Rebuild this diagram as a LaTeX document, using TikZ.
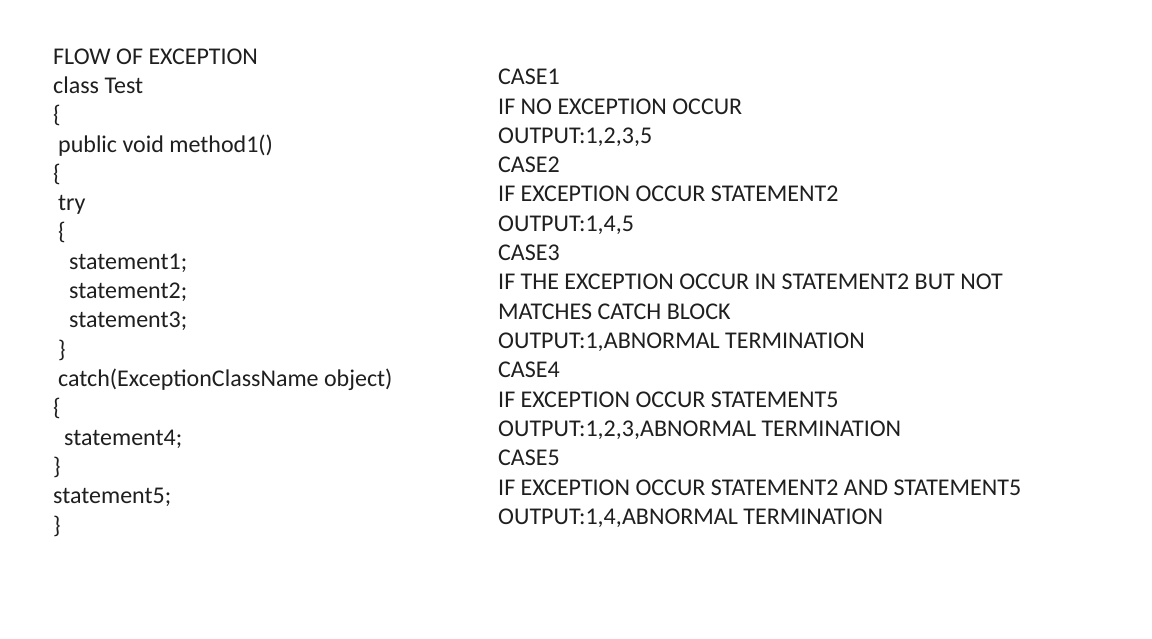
\documentclass[tikz,border=0pt]{standalone}
\usepackage{fontspec}
\setmainfont{Carlito}
\begin{document}
\begin{tikzpicture}[x=1pt,y=-1pt,
  txt/.style={anchor=base west,inner sep=0pt,font=\fontsize{24}{28}\selectfont,text=black!88}]
\useasboundingbox[fill=white] (0,0) rectangle (1152,639);
\def\ls{29.3}
% left column
\node[txt] (l0) at (53,64.2+0*\ls) {FLOW OF EXCEPTION};
\node[txt] (l1) at (53,64.2+1*\ls) {class Test};
\node[txt] (l2) at (53,64.2+2*\ls) {\{};
\node[txt] (l3) at (58,64.2+3*\ls) {public void method1()};
\node[txt] (l4) at (53,64.2+4*\ls) {\{};
\node[txt] (l5) at (58,64.2+5*\ls) {try};
\node[txt] (l6) at (58,64.2+6*\ls) {\{};
\node[txt] (l7) at (69,64.2+7*\ls) {statement1;};
\node[txt] (l8) at (69,64.2+8*\ls) {statement2;};
\node[txt] (l9) at (69,64.2+9*\ls) {statement3;};
\node[txt] (l10) at (58,64.2+10*\ls) {\}};
\node[txt] (l11) at (58,64.2+11*\ls) {catch(ExceptionClassName object)};
\node[txt] (l12) at (53,64.2+12*\ls) {\{};
\node[txt] (l13) at (64,64.2+13*\ls) {statement4;};
\node[txt] (l14) at (53,64.2+14*\ls) {\}};
\node[txt] (l15) at (53,64.2+15*\ls) {statement5;};
\node[txt] (l16) at (53,64.2+16*\ls) {\}};
% right column
\node[txt] (r0) at (498,84.8+0*\ls) {CASE1};
\node[txt] (r1) at (498,84.8+1*\ls) {IF NO EXCEPTION OCCUR};
\node[txt] (r2) at (498,84.8+2*\ls) {OUTPUT:1,2,3,5};
\node[txt] (r3) at (498,84.8+3*\ls) {CASE2};
\node[txt] (r4) at (498,84.8+4*\ls) {IF EXCEPTION OCCUR STATEMENT2};
\node[txt] (r5) at (498,84.8+5*\ls) {OUTPUT:1,4,5};
\node[txt] (r6) at (498,84.8+6*\ls) {CASE3};
\node[txt] (r7) at (498,84.8+7*\ls) {IF THE EXCEPTION OCCUR IN STATEMENT2 BUT NOT};
\node[txt] (r8) at (498,84.8+8*\ls) {MATCHES CATCH BLOCK};
\node[txt] (r9) at (498,84.8+9*\ls) {OUTPUT:1,ABNORMAL TERMINATION};
\node[txt] (r10) at (498,84.8+10*\ls) {CASE4};
\node[txt] (r11) at (498,84.8+11*\ls) {IF EXCEPTION OCCUR STATEMENT5};
\node[txt] (r12) at (498,84.8+12*\ls) {OUTPUT:1,2,3,ABNORMAL TERMINATION};
\node[txt] (r13) at (498,84.8+13*\ls) {CASE5};
\node[txt] (r14) at (498,84.8+14*\ls) {IF EXCEPTION OCCUR STATEMENT2 AND STATEMENT5};
\node[txt] (r15) at (498,84.8+15*\ls) {OUTPUT:1,4,ABNORMAL TERMINATION};
\end{tikzpicture}
\end{document}
